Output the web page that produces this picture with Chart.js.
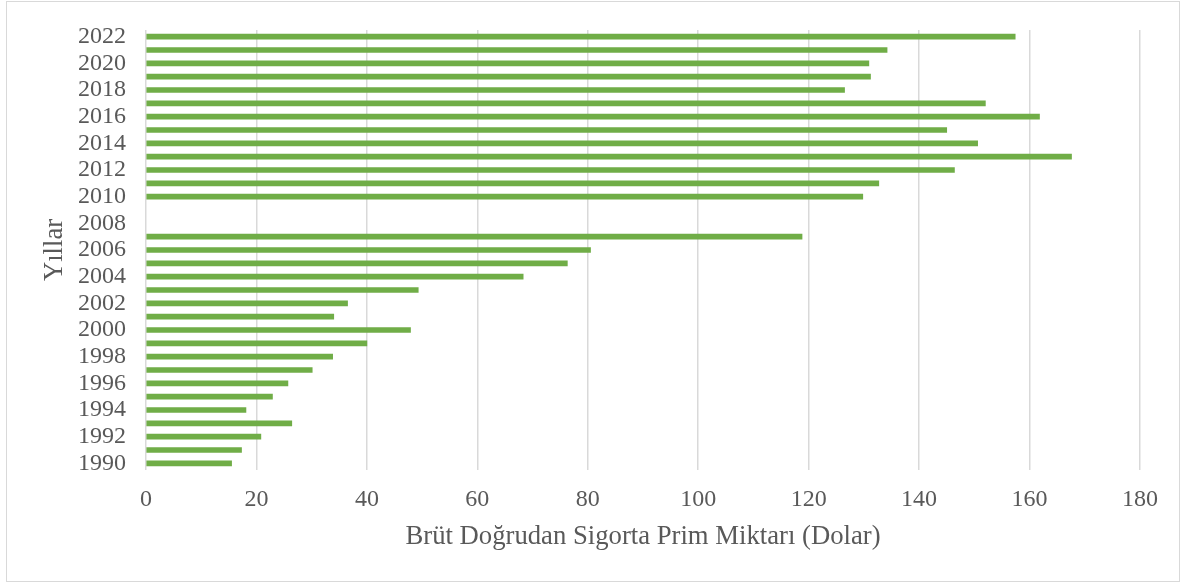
<!DOCTYPE html>
<html lang="tr">
<head>
<meta charset="UTF-8">
<title>Brüt Doğrudan Sigorta Prim Miktarı</title>
<script src="https://cdn.jsdelivr.net/npm/chart.js@4/dist/chart.umd.min.js"></script>
<style>
    html, body { margin: 0; padding: 0; background: #fff; }
    .chart-wrap { position: relative; width: 1184px; height: 583px; }
    .chart-frame {
        position: absolute; left: 6px; top: 1px; width: 1174px; height: 581px;
        box-sizing: border-box; border: 1px solid #d9d9d9; pointer-events: none;
    }
</style>
</head>
<body>
<div class="chart-wrap">
    <canvas id="premChart" width="1184" height="583"></canvas>
    <div class="chart-frame"></div>
</div>
<script>
// Years and gross direct premium amounts (2008-2009 have no data)
const years = ['1990', '1991', '1992', '1993', '1994', '1995', '1996', '1997', '1998', '1999',
    '2000', '2001', '2002', '2003', '2004', '2005', '2006', '2007', '2008', '2009',
    '2010', '2011', '2012', '2013', '2014', '2015', '2016', '2017', '2018', '2019',
    '2020', '2021', '2022'];
const premiums = [15.5, 17.3, 20.8, 26.4, 18.1, 22.9, 25.7, 30.1, 33.8, 40.0,
    47.9, 34.0, 36.5, 49.3, 68.3, 76.3, 80.5, 118.8, null, null,
    129.8, 132.7, 146.4, 167.6, 150.6, 145.0, 161.8, 152.0, 126.5, 131.2,
    130.9, 134.2, 157.4];
const xTicks = [0, 20, 40, 60, 80, 100, 120, 140, 160, 180];

const serif = '"Liberation Serif", "Times New Roman", serif';
const textColor = '#595959';

document.addEventListener('DOMContentLoaded', function() {
    new Chart(document.getElementById('premChart'), {
        type: 'bar',
        data: {
            labels: years,
            datasets: [{
                data: premiums,
                backgroundColor: '#70ad47',
                barThickness: 5
            }]
        },
        options: {
            indexAxis: 'y',
            responsive: false,
            animation: false,
            layout: { padding: { top: 30, right: 44, left: 0, bottom: 0 } },
            plugins: {
                legend: { display: false },
                tooltip: { enabled: false }
            },
            scales: {
                x: {
                    min: xTicks[0],
                    max: xTicks[xTicks.length - 1],
                    afterFit: function(scale) { scale.height = 113; },
                    afterBuildTicks: function(scale) {
                        scale.ticks = xTicks.map(v => ({ value: v }));
                    },
                    grid: { color: '#d9d9d9', lineWidth: 1.5, drawTicks: false },
                    border: { display: false },
                    ticks: {
                        padding: 15,
                        color: textColor,
                        font: { family: serif, size: 24 }
                    },
                    title: {
                        display: true,
                        text: 'Brüt Doğrudan Sigorta Prim Miktarı (Dolar)',
                        color: textColor,
                        font: { family: serif, size: 26.7 },
                        padding: { top: 0, bottom: 30 }
                    }
                },
                y: {
                    reverse: true,
                    afterFit: function(scale) {
                        scale.width = 146;
                        // let the layout padding alone decide the plot top
                        scale.paddingTop = 0;
                        scale.paddingBottom = 0;
                    },
                    grid: { display: false, drawTicks: false },
                    border: { display: false },
                    ticks: {
                        autoSkip: false,
                        padding: 20,
                        color: textColor,
                        font: { family: serif, size: 24 },
                        callback: function(value) {
                            const label = this.getLabelForValue(value);
                            return Number(label) % 2 === 0 ? label : '';
                        }
                    },
                    title: {
                        display: true,
                        text: 'Yıllar',
                        color: textColor,
                        font: { family: serif, size: 26.7 },
                        padding: { top: 39, bottom: 0 }
                    }
                }
            }
        }
    });
});
</script>
</body>
</html>
